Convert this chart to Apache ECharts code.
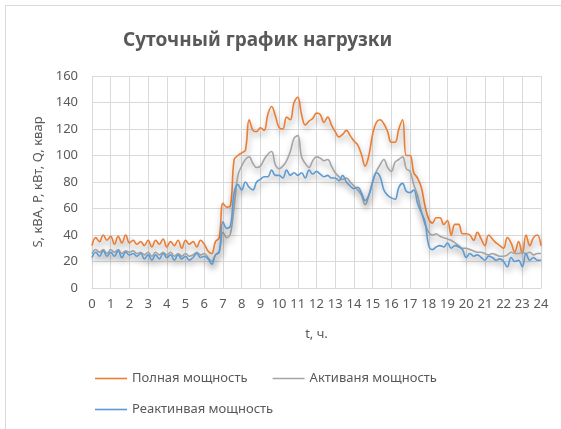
<!DOCTYPE html>
<html>
<head>
<meta charset="utf-8">
<script src="https://cdn.jsdelivr.net/npm/echarts@6/dist/echarts.min.js"></script>
<style>
  html, body { margin: 0; padding: 0; background: #fff; }
  #chart { width: 561px; height: 429px; }
</style>
</head>
<body>
<div id="chart"></div>
<script>
// readings every 0.2 h, from 0 to 24 h
const step = 0.2
const hourTicks = [0, 1, 2, 3, 4, 5, 6, 7, 8, 9, 10, 11, 12, 13, 14, 15, 16, 17, 18, 19, 20, 21, 22, 23, 24]

const fullPower = [
    32, 38, 35, 40, 36, 39, 33, 39, 34, 40,
    34, 36, 33, 35, 32, 36, 31, 36, 33, 37,
    31, 35, 32, 36, 30, 36, 33, 35, 31, 36,
    33, 28, 26, 35, 38, 64, 61, 62, 97, 100,
    102, 104, 127, 119, 118, 121, 119, 131, 137, 130,
    121, 120, 129, 127, 140, 144, 131, 123, 126, 128,
    132, 131, 125, 129, 123, 118, 114, 116, 119, 115,
    111, 108, 101, 92, 100, 116, 125, 127, 124, 118,
    110, 110, 120, 127, 100, 100, 87, 83, 76, 62,
    52, 49, 53, 53, 48, 51, 40, 48, 48, 41,
    41, 40, 36, 42, 37, 32, 40, 37, 34, 32,
    30, 38, 34, 27, 35, 26, 40, 32, 38, 40,
    32
]

const activePower = [
    26, 29, 27, 29, 26, 29, 27, 29, 26, 28,
    27, 28, 26, 27, 25, 27, 24, 27, 25, 27,
    25, 27, 24, 26, 24, 26, 24, 25, 27, 25,
    26, 23, 20, 25, 28, 42, 38, 41, 62, 85,
    92, 97, 99, 94, 91, 92, 97, 101, 103, 93,
    90, 92, 96, 103, 113, 115, 99, 94, 91, 96,
    99, 98, 96, 97, 92, 87, 84, 82, 83, 80,
    77, 74, 70, 63, 70, 80, 88, 93, 97, 91,
    88, 95, 97, 99, 90, 88, 78, 70, 58, 48,
    42, 40, 41, 39, 38, 37, 36, 34, 32, 30,
    30, 29, 28, 27, 27, 26, 25, 26, 25, 24,
    24, 25, 27, 26, 26, 27, 26, 27, 25, 26,
    26
]

const reactivePower = [
    23, 27, 24, 28, 24, 27, 24, 28, 23, 27,
    25, 26, 24, 26, 22, 25, 21, 25, 22, 26,
    23, 25, 21, 25, 22, 24, 21, 23, 26, 23,
    24, 22, 18, 25, 27, 50, 45, 47, 72, 78,
    74, 80, 76, 74, 80, 82, 84, 84, 89, 85,
    85, 83, 89, 85, 87, 85, 87, 83, 89, 86,
    88, 86, 84, 85, 83, 83, 81, 85, 80, 77,
    75, 76, 72, 66, 70, 80, 87, 84, 74, 70,
    68, 67, 76, 79, 73, 72, 74, 64, 57, 50,
    32, 29, 31, 32, 31, 34, 30, 32, 31, 29,
    23, 26, 24, 25, 23, 21, 24, 23, 21, 22,
    20, 16, 23, 20, 21, 16, 26, 21, 23, 21,
    21
]

const seriesNames = ['Полная мощность', 'Активаня мощность', 'Реактинвая мощность']
const seriesColors = ['#ED7D31', '#A5A5A5', '#5B9BD5']

const toPoints = (values) => values.map((v, i) => [+(i * step).toFixed(1), v])

const makeLine = (name, color, values) => {
    return {
        name: name,
        type: 'line',
        data: toPoints(values),
        smooth: 0.4,
        symbol: 'none',
        lineStyle: {
            color: color,
            width: 1.6,
            shadowColor: 'rgba(0, 0, 0, 0.4)',
            shadowBlur: 6,
            shadowOffsetX: 1,
            shadowOffsetY: 4
        },
        itemStyle: { color: color }
    }
}

const textColor = '#595959'
const gridColor = '#d9d9d9'
const font = 'Noto Sans'

const legendBase = {
    icon: 'rect',
    padding: 0,
    itemWidth: 32,
    itemHeight: 1.6,
    itemGap: 25,
    textStyle: { color: textColor, fontSize: 13, fontFamily: font },
    selectedMode: false
}

let option = {
    animation: false,
    backgroundColor: '#fff',
    title: {
        text: 'Суточный график нагрузки',
        left: 123,
        top: 31,
        padding: 0,
        textStyle: { color: textColor, fontSize: 19, fontWeight: 'bold', fontFamily: font }
    },
    graphic: [
        {
            type: 'rect',
            shape: { x: 5.5, y: 5.5, width: 600, height: 500 },
            style: { fill: 'none', stroke: '#d9d9d9', lineWidth: 1 },
            silent: true
        }
    ],
    legend: [
        Object.assign({ data: [seriesNames[0], seriesNames[1]], left: 95, top: 372 }, legendBase),
        Object.assign({ data: [seriesNames[2]], left: 95, top: 403 }, legendBase)
    ],
    grid: { left: 92, right: 20, top: 76, bottom: 141 },
    xAxis: {
        type: 'value',
        min: 0,
        max: 24,
        interval: 1,
        name: 't, ч.',
        nameLocation: 'middle',
        nameGap: 40,
        nameTextStyle: { color: textColor, fontSize: 13, fontFamily: font },
        axisLine: { lineStyle: { color: gridColor } },
        axisTick: { show: false },
        axisLabel: {
            color: textColor, fontSize: 13, fontFamily: font, margin: 10,
            formatter: (v) => hourTicks.includes(v) ? String(v) : ''
        },
        splitLine: { show: true, lineStyle: { color: gridColor, width: 1 } }
    },
    yAxis: {
        type: 'value',
        min: 0,
        max: 160,
        interval: 20,
        name: 'S, кВА, P, кВт, Q, квар',
        nameLocation: 'middle',
        nameGap: 38,
        nameTextStyle: { color: textColor, fontSize: 13, fontFamily: font },
        axisLine: { show: false },
        axisTick: { show: false },
        axisLabel: { color: textColor, fontSize: 13, fontFamily: font, margin: 14 },
        splitLine: { show: true, lineStyle: { color: gridColor, width: 1 } }
    },
    series: [
        makeLine(seriesNames[0], seriesColors[0], fullPower),
        makeLine(seriesNames[1], seriesColors[1], activePower),
        makeLine(seriesNames[2], seriesColors[2], reactivePower)
    ]
}

let chart = echarts.init(document.getElementById('chart'))
chart.setOption(option)
</script>
</body>
</html>
